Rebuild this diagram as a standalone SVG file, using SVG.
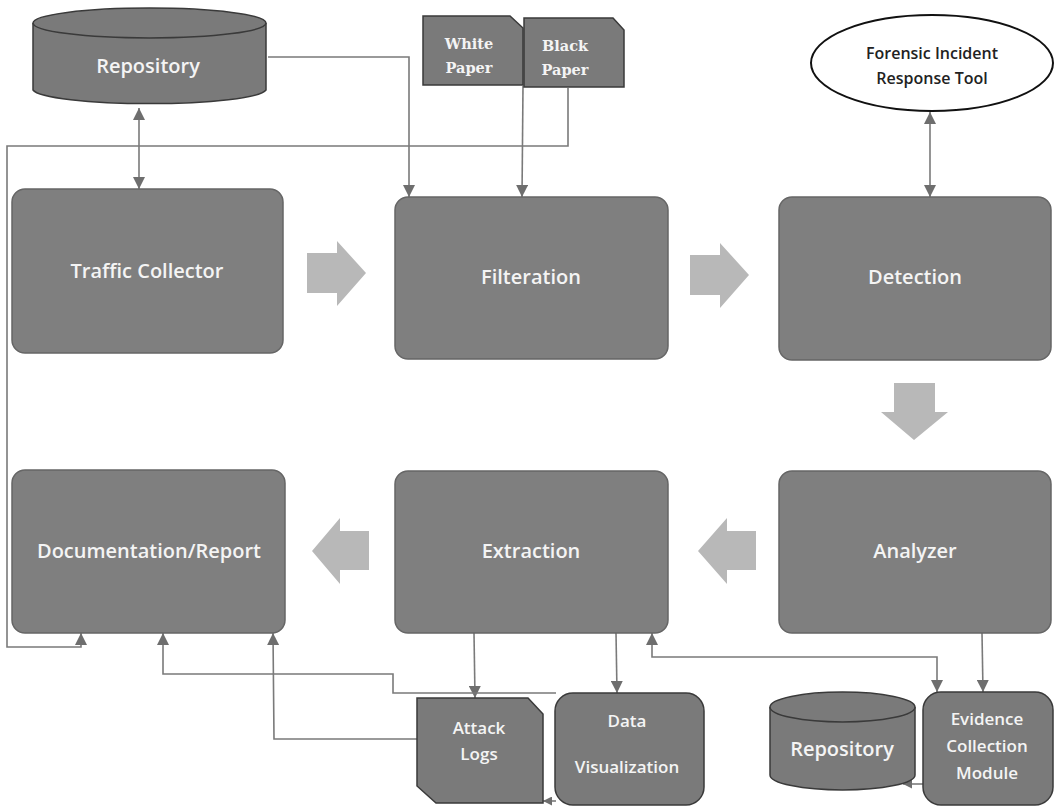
<svg xmlns="http://www.w3.org/2000/svg" width="1055" height="809" viewBox="0 0 1055 809">
  <defs>
    <style>
      .box { fill: #7f7f7f; stroke: #666; stroke-width: 1.5; }
      .dark { fill: #7a7a7a; stroke: #3a3a3a; stroke-width: 1.5; }
      .lbl { font-family: "Open Sans", "Liberation Sans", sans-serif; font-size: 20px; font-weight: 600; fill: #f4f4f4; text-anchor: middle; }
      .sm { font-family: "Open Sans", "Liberation Sans", sans-serif; font-size: 17px; font-weight: 600; fill: #f4f4f4; text-anchor: middle; }
      .paper { font-family: "DejaVu Serif", "Liberation Serif", serif; font-size: 14.5px; font-weight: bold; fill: #f4f4f4; text-anchor: middle; }
      .tool { font-family: "Open Sans", "Liberation Sans", sans-serif; font-size: 16px; font-weight: 600; fill: #222; text-anchor: middle; }
      .wire { fill: none; stroke: #7a7a7a; stroke-width: 1.6; }
      .flow { fill: #b8b8b8; }
    </style>
    <marker id="ah" viewBox="0 0 10 10" refX="10" refY="5" markerWidth="9" markerHeight="9" markerUnits="userSpaceOnUse" orient="auto-start-reverse">
      <path d="M0,0 L10,5 L0,10 Z" fill="#6e6e6e"/>
    </marker>
    <marker id="ahs" viewBox="0 0 10 10" refX="10" refY="5" markerWidth="12" markerHeight="12" markerUnits="userSpaceOnUse" orient="auto-start-reverse">
      <path d="M0,0 L10,5 L0,10 Z" fill="#6e6e6e"/>
    </marker>
  </defs>
  <rect width="1055" height="809" fill="#ffffff"/>

  <!-- connectors -->
  <g id="connectors">
    <!-- repository <-> traffic collector -->
    <line class="wire" x1="139" y1="108" x2="139" y2="189" marker-start="url(#ahs)" marker-end="url(#ahs)"/>
    <!-- repository -> filteration -->
    <polyline class="wire" points="268,57 409,57 409,197" marker-end="url(#ahs)"/>
    <!-- white paper -> filteration -->
    <line class="wire" x1="523" y1="86" x2="522" y2="197" marker-end="url(#ahs)"/>
    <!-- black paper loop -> documentation -->
    <polyline class="wire" points="568,88 568,146 7,146 7,647 81,647 81,633" marker-end="url(#ahs)"/>
    <!-- forensic tool <-> detection -->
    <line class="wire" x1="930" y1="112" x2="930" y2="197" marker-start="url(#ahs)" marker-end="url(#ahs)"/>
    <!-- extraction -> attack logs / data visualization -->
    <line class="wire" x1="474" y1="633" x2="475" y2="698" marker-end="url(#ahs)"/>
    <line class="wire" x1="616" y1="633" x2="617" y2="693" marker-end="url(#ahs)"/>
    <!-- data visualization -> documentation -->
    <polyline class="wire" points="556,693 393,693 393,674 163,674 163,633" marker-end="url(#ahs)"/>
    <!-- attack logs -> documentation -->
    <polyline class="wire" points="417,739 274,739 273,633" marker-end="url(#ahs)"/>
    <!-- evidence collection <-> extraction -->
    <polyline class="wire" points="652,633 652,657 937,657 937,692" marker-start="url(#ahs)" marker-end="url(#ahs)"/>
    <!-- analyzer -> evidence collection -->
    <line class="wire" x1="982" y1="633" x2="983" y2="692" marker-end="url(#ahs)"/>
    <!-- evidence collection -> repository -->
    <line class="wire" x1="923" y1="784" x2="903" y2="784" marker-end="url(#ah)"/>
    <!-- data visualization -> attack logs -->
    <line class="wire" x1="556" y1="801" x2="543" y2="801" marker-end="url(#ah)"/>

    <!-- process flow arrows -->
    <polygon class="flow" points="307,253 337,253 337,241 366,273 337,306 337,293 307,293"/>
    <polygon class="flow" points="690,255 720,255 720,243 749,275 720,308 720,295 690,295"/>
    <polygon class="flow" points="894,383 935,383 935,412 948,412 914,440 881,412 894,412"/>
    <polygon class="flow" points="756,531 727,531 727,518 698,551 727,584 727,570 756,570"/>
    <polygon class="flow" points="369,531 340,531 340,518 312,551 340,584 340,570 369,570"/>
  </g>

  <!-- top repository -->
  <g id="repository-top">
    <path class="dark" d="M33,23 L33,90 A117,15 0 0 0 266,90 L266,23"/>
    <ellipse class="dark" cx="149.5" cy="23" rx="116.5" ry="15"/>
    <text class="lbl" x="148" y="73">Repository</text>
  </g>

  <!-- white paper -->
  <g id="white-paper">
    <path class="dark" d="M423,16 L510,16 L523,28 L523,85 L423,85 Z"/>
    <text class="paper" x="469" y="49">White</text>
    <text class="paper" x="469" y="73">Paper</text>
  </g>

  <!-- black paper -->
  <g id="black-paper">
    <path class="dark" d="M524,18 L613,18 L624,30 L624,87 L524,87 Z"/>
    <text class="paper" x="565" y="51">Black</text>
    <text class="paper" x="565" y="75">Paper</text>
  </g>

  <!-- forensic incident response tool -->
  <g id="forensic-tool">
    <ellipse cx="932" cy="63" rx="121" ry="48" fill="#ffffff" stroke="#111" stroke-width="2"/>
    <text class="tool" x="932" y="59">Forensic Incident</text>
    <text class="tool" x="932" y="84">Response Tool</text>
  </g>

  <!-- main process stages -->
  <g id="traffic-collector">
    <rect class="box" x="12" y="189" width="271" height="164" rx="13"/>
    <text class="lbl" x="147" y="278">Traffic Collector</text>
  </g>
  <g id="filteration">
    <rect class="box" x="395" y="197" width="273" height="162" rx="13"/>
    <text class="lbl" x="531" y="284">Filteration</text>
  </g>
  <g id="detection">
    <rect class="box" x="779" y="197" width="272" height="163" rx="13"/>
    <text class="lbl" x="915" y="284">Detection</text>
  </g>
  <g id="documentation-report">
    <rect class="box" x="12" y="470" width="273" height="163" rx="13"/>
    <text class="lbl" x="149" y="558">Documentation/Report</text>
  </g>
  <g id="extraction">
    <rect class="box" x="395" y="471" width="273" height="162" rx="13"/>
    <text class="lbl" x="531" y="558">Extraction</text>
  </g>
  <g id="analyzer">
    <rect class="box" x="779" y="471" width="272" height="162" rx="13"/>
    <text class="lbl" x="915" y="558">Analyzer</text>
  </g>

  <!-- attack logs -->
  <g id="attack-logs">
    <path class="dark" d="M417,698 L528,698 L543,714 L543,803 L436,803 L417,786 Z"/>
    <text class="sm" x="479" y="734">Attack</text>
    <text class="sm" x="479" y="760">Logs</text>
  </g>

  <!-- data visualization -->
  <g id="data-visualization">
    <rect class="dark" x="555" y="693" width="149" height="112" rx="18"/>
    <text class="sm" x="627" y="727">Data</text>
    <text class="sm" x="627" y="773">Visualization</text>
  </g>

  <!-- bottom repository -->
  <g id="repository-bottom">
    <path class="dark" d="M770,707 L770,775 A72.5,15 0 0 0 915,775 L915,707"/>
    <ellipse class="dark" cx="842.5" cy="707" rx="72.5" ry="15"/>
    <text class="lbl" x="842" y="756">Repository</text>
  </g>

  <!-- evidence collection module -->
  <g id="evidence-collection">
    <rect class="dark" x="923" y="692" width="130" height="113" rx="18"/>
    <text class="sm" x="987" y="725">Evidence</text>
    <text class="sm" x="987" y="752">Collection</text>
    <text class="sm" x="987" y="779">Module</text>
  </g>
</svg>
